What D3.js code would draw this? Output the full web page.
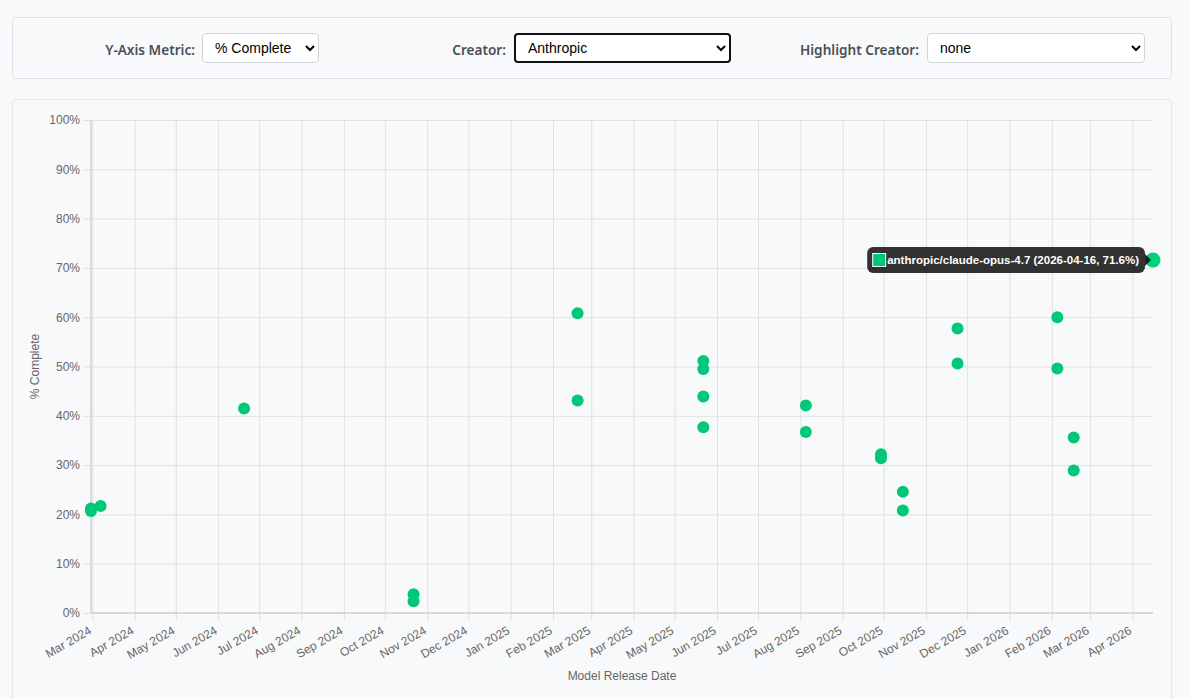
<!DOCTYPE html>
<html>
<head>
    <meta charset="utf-8">
    <script src="https://d3js.org/d3.v7.min.js"></script>
    <style>
        body { margin: 0; background-color: #f8f9fa; font-family: "Liberation Sans", Arial, sans-serif; }
        .panel { position: absolute; box-sizing: border-box; border: 1px solid #dee2e6; border-radius: 4px; background: #f8f9fa; }
        .lbl { position: absolute; top: 40px; font-family: "Noto Sans", "Open Sans", sans-serif; font-weight: 600;
               font-size: 13.6px; color: #495057; text-align: right; white-space: nowrap; }
        select { position: absolute; top: 33px; height: 30px; box-sizing: border-box; background: #fff;
                 border: 1px solid #ced4da; border-radius: 4px; font-family: "Liberation Sans", Arial, sans-serif;
                 font-size: 14px; color: #000; padding: 0 6px 0 8px; }
        #creator { border: 2px solid #111; }
    </style>
</head>

<body>

    <!-- controls row -->
    <div class="panel" style="left: 12px; top: 17px; width: 1160px; height: 62px;"></div>
    <div class="lbl" style="right: 995px;">Y-Axis Metric:</div>
    <select id="metric" style="left: 202px; width: 117px;"><option>% Complete</option></select>
    <div class="lbl" style="right: 684px;">Creator:</div>
    <select id="creator" style="left: 514px; width: 217px;"><option>Anthropic</option></select>
    <div class="lbl" style="right: 271px;">Highlight Creator:</div>
    <select id="highlight" style="left: 927px; width: 218px;"><option>none</option></select>

    <!-- chart box -->
    <div class="panel" style="left: 12px; top: 99px; width: 1160px; height: 620px; border-color: #e6e9ec;"></div>
    <div id="mio_grafico" style="position: absolute; left: 0; top: 0;"></div>

<script>
    // data (Anthropic models)
    var modelIds = [
        "anthropic/claude-3-opus", "anthropic/claude-3-sonnet", "anthropic/claude-3-haiku",
        "anthropic/claude-3.5-sonnet",
        "anthropic/claude-3.5-sonnet-20241022", "anthropic/claude-3.5-haiku",
        "anthropic/claude-3.7-sonnet:thinking", "anthropic/claude-3.7-sonnet",
        "anthropic/claude-opus-4:thinking", "anthropic/claude-opus-4", "anthropic/claude-sonnet-4:thinking", "anthropic/claude-sonnet-4",
        "anthropic/claude-opus-4.1:thinking", "anthropic/claude-opus-4.1",
        "anthropic/claude-sonnet-4.5:thinking", "anthropic/claude-sonnet-4.5",
        "anthropic/claude-haiku-4.5:thinking", "anthropic/claude-haiku-4.5",
        "anthropic/claude-opus-4.5:thinking", "anthropic/claude-opus-4.5",
        "anthropic/claude-opus-4.6:thinking", "anthropic/claude-opus-4.6",
        "anthropic/claude-sonnet-4.6:thinking", "anthropic/claude-sonnet-4.6",
        "anthropic/claude-opus-4.7"
    ];
    var releaseDates = [
        "2024-02-29", "2024-02-29", "2024-03-07",
        "2024-06-20",
        "2024-10-22", "2024-10-22",
        "2025-02-19", "2025-02-19",
        "2025-05-22", "2025-05-22", "2025-05-22", "2025-05-22",
        "2025-08-05", "2025-08-05",
        "2025-09-29", "2025-09-29",
        "2025-10-15", "2025-10-15",
        "2025-11-24", "2025-11-24",
        "2026-02-05", "2026-02-05",
        "2026-02-17", "2026-02-17",
        "2026-04-16"
    ];
    var pctComplete = [
        20.7, 21.2, 21.7,
        41.5,
        3.8, 2.4,
        60.8, 43.1,
        51.1, 49.5, 43.9, 37.7,
        42.1, 36.7,
        32.2, 31.4,
        24.6, 20.8,
        57.7, 50.6,
        60.0, 49.6,
        35.6, 28.9,
        71.6
    ];
    var yTicks = [0, 10, 20, 30, 40, 50, 60, 70, 80, 90, 100];
    var hoveredModel = "anthropic/claude-opus-4.7";

    var parseDate = d3.timeParse("%Y-%m-%d");
    var data = modelIds.map(function(id, i) {
        return { id: id, date: parseDate(releaseDates[i]), value: pctComplete[i] };
    });

    // set the dimensions and margins of the graph
    var margin = {top: 120, right: 37, bottom: 86, left: 91},
        width = 1190 - margin.left - margin.right,
        height = 699 - margin.top - margin.bottom;

    var svg = d3.select("#mio_grafico")
            .append("svg")
            .attr("width", 1190)
            .attr("height", 699)
            .style("font-family", "'Liberation Sans', Arial, sans-serif")
            .append("g")
            .attr("transform", "translate(" + margin.left + "," + margin.top + ")");

    var x = d3.scaleTime()
              .domain(d3.extent(data, function(d) { return d.date; }))
              .range([0, width]);
    var y = d3.scaleLinear()
              .domain([0, 100])
              .range([height, 0]);

    var gridColor = "#dfe1e3";

    // Y axis + horizontal grid
    var yAxis = svg.append("g")
       .call(d3.axisLeft(y).tickValues(yTicks).tickSize(-width - 8).tickPadding(3)
               .tickFormat(function(d) { return d + "%"; }))
       .attr("transform", "translate(-8,0)");
    yAxis.select(".domain").remove();
    yAxis.selectAll("line").attr("x1", 0).attr("x2", width + 8).attr("stroke", gridColor);
    yAxis.selectAll("text").attr("x", -3).attr("fill", "#666").style("font-size", "12px");

    // X axis + vertical grid
    var xAxis = svg.append("g")
       .attr("transform", "translate(0," + height + ")")
       .call(d3.axisBottom(x).ticks(d3.timeMonth.every(1)).tickFormat(d3.timeFormat("%b %Y"))
               .tickSize(-height - 8));
    xAxis.select(".domain").remove();
    xAxis.selectAll("line").attr("y1", 8).attr("y2", -height).attr("stroke", gridColor);
    xAxis.selectAll("text")
       .attr("fill", "#666")
       .style("font-size", "12px")
       .style("text-anchor", "end")
       .attr("y", 0).attr("dy", "0.75em")
       .attr("transform", "translate(-5,12)rotate(-30)");

    // axis borders
    svg.append("line").attr("x1", 0).attr("x2", 0).attr("y1", 0).attr("y2", height)
       .attr("stroke", "#cfd1d4").attr("stroke-width", 1.5);
    svg.append("line").attr("x1", 0).attr("x2", width).attr("y1", height).attr("y2", height)
       .attr("stroke", "#cfd1d4").attr("stroke-width", 1.5);

    // axis titles
    svg.append("text")
       .attr("x", width / 2).attr("y", height + 67)
       .attr("text-anchor", "middle").attr("fill", "#666").style("font-size", "12px")
       .text("Model Release Date");
    svg.append("text")
       .attr("transform", "translate(-52," + (height / 2) + ")rotate(-90)")
       .attr("text-anchor", "middle").attr("fill", "#666").style("font-size", "12px")
       .text("% Complete");

    // points
    svg.selectAll("mycircle")
       .data(data.filter(function(d) { return d.id !== hoveredModel; }))
       .enter()
       .append("circle")
       .attr("cx", function(d) { return x(d.date); })
       .attr("cy", function(d) { return y(d.value); })
       .attr("r", 6)
       .style("fill", "#00c878");

    // hovered point + tooltip
    var h = data.find(function(d) { return d.id === hoveredModel; });
    var hx = x(h.date), hy = y(h.value);
    svg.append("circle")
       .attr("cx", hx).attr("cy", hy).attr("r", 7.5)
       .style("fill", "#00d27c");

    var tip = svg.append("g");
    var tipText = tip.append("text")
       .attr("fill", "#fff").style("font-size", "11.5px").style("font-weight", "bold")
       .attr("dy", "0.35em")
       .text(h.id + " (" + d3.timeFormat("%Y-%m-%d")(h.date) + ", " + h.value.toFixed(1) + "%)");
    var tw = tipText.node().getComputedTextLength();
    var boxW = tw + 26, boxH = 26;
    var boxR = hx - 8, boxL = boxR - boxW;
    tip.insert("rect", "text")
       .attr("x", boxL).attr("y", hy - boxH / 2).attr("width", boxW).attr("height", boxH)
       .attr("rx", 6).attr("fill", "rgba(0,0,0,0.8)");
    tip.insert("path", "text")
       .attr("d", "M" + boxR + "," + (hy - 6) + "L" + (boxR + 6) + "," + hy + "L" + boxR + "," + (hy + 6) + "Z")
       .attr("fill", "rgba(0,0,0,0.8)");
    tip.append("rect")
       .attr("x", boxL + 5.5).attr("y", hy - 6.5).attr("width", 13).attr("height", 13)
       .attr("fill", "#00c878").attr("stroke", "#fff").attr("stroke-width", 1);
    tipText.attr("x", boxL + 20).attr("y", hy);
</script>

</body>
</html>
